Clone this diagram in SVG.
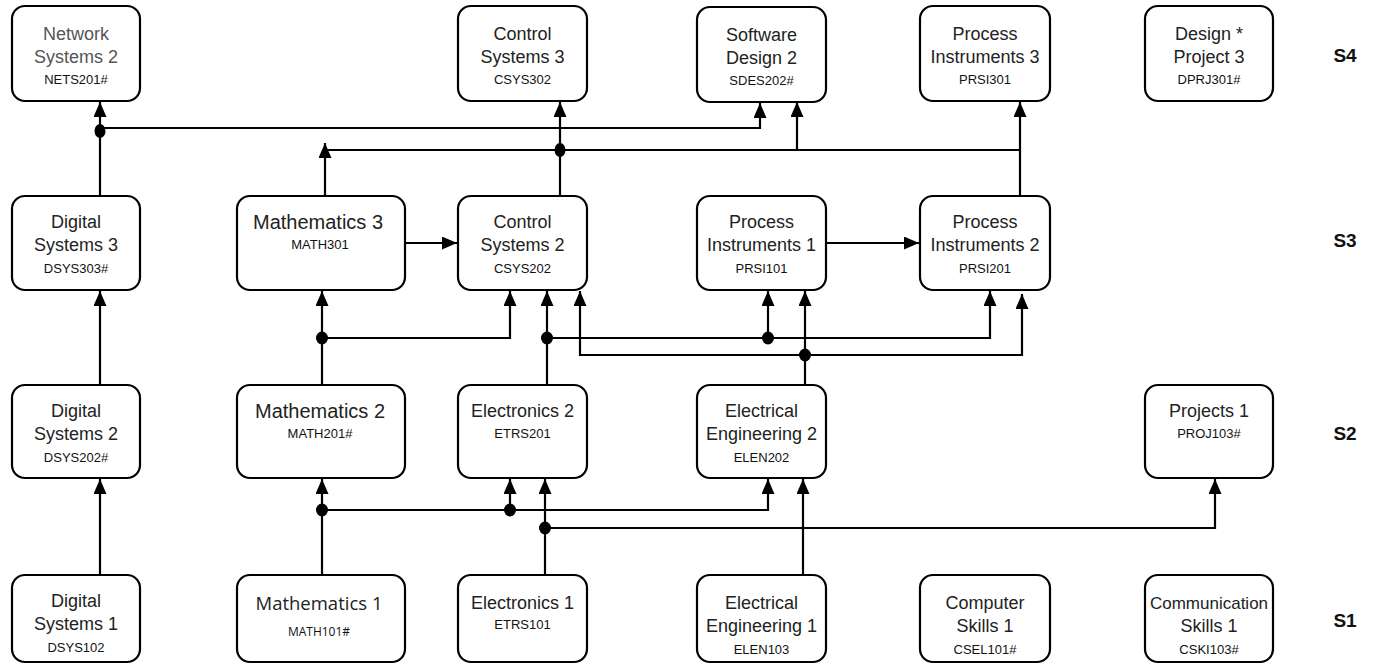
<svg xmlns="http://www.w3.org/2000/svg" width="1394" height="670" viewBox="0 0 1394 670">
<defs>
<marker id="arr" markerUnits="userSpaceOnUse" markerWidth="16" markerHeight="14" refX="15" refY="6.5" orient="auto">
<path d="M0,0 L15,6.5 L0,13 z" fill="#000"/>
</marker>
<style>
.box{fill:#fff;stroke:#000;stroke-width:2.2}
.t{font-family:"Liberation Sans",Arial,sans-serif;font-size:18px;fill:#222;text-anchor:middle;dominant-baseline:central}
.c{font-family:"Liberation Sans",Arial,sans-serif;font-size:13px;fill:#111;text-anchor:middle;dominant-baseline:central}
.g{fill:#555}
.mt{font-size:20px}
.m{font-family:"Open Sans","DejaVu Sans",sans-serif}
.s{font-family:"Liberation Sans",Arial,sans-serif;font-size:19px;font-weight:bold;fill:#111;text-anchor:middle;dominant-baseline:central}
.e{fill:none;stroke:#000;stroke-width:2.2;marker-end:url(#arr)}
.l{fill:none;stroke:#000;stroke-width:2.2}
.d{fill:#000}
</style>
</defs>
<rect width="1394" height="670" fill="#fff"/>
<g id="connectors">
<path class="e" d="M100,196 V102"/>
<path class="e" d="M100,128 H760 V103"/>
<ellipse class="d" cx="100" cy="131" rx="5.5" ry="7"/>
<path class="e" d="M325,196 V143"/>
<path class="l" d="M325,150 H1020"/>
<path class="e" d="M1020,196 V102"/>
<path class="e" d="M797,150 V102"/>
<path class="e" d="M560,196 V102"/>
<ellipse class="d" cx="560" cy="150" rx="5.5" ry="7"/>
<path class="e" d="M405,243 H457"/>
<path class="e" d="M826,243 H919"/>
<path class="e" d="M100,385 V291"/>
<path class="e" d="M322,385 V291"/>
<path class="e" d="M322,338 H510 V291"/>
<ellipse class="d" cx="322" cy="338" rx="6" ry="6.5"/>
<path class="e" d="M547,385 V291"/>
<path class="e" d="M547,338 H990 V291"/>
<path class="e" d="M768,338 V291"/>
<ellipse class="d" cx="547" cy="338" rx="6" ry="6.5"/>
<ellipse class="d" cx="768" cy="338" rx="6" ry="6.5"/>
<path class="e" d="M805,385 V291"/>
<path class="e" d="M805,355 H1022 V294"/>
<path class="e" d="M805,355 H580 V291"/>
<ellipse class="d" cx="805" cy="355" rx="6" ry="6.5"/>
<path class="e" d="M100,575 V479"/>
<path class="e" d="M322,575 V479"/>
<path class="e" d="M322,510 H768 V479"/>
<path class="e" d="M510,510 V479"/>
<ellipse class="d" cx="322" cy="510" rx="6" ry="6.5"/>
<ellipse class="d" cx="510" cy="510" rx="6" ry="6.5"/>
<path class="e" d="M545,575 V479"/>
<path class="e" d="M545,528 H1215 V479"/>
<ellipse class="d" cx="545" cy="528" rx="6" ry="6.5"/>
<path class="e" d="M803,575 V479"/>
</g>
<g id="NETS201">
<rect class="box" x="12" y="6" width="128" height="95" rx="13"/>
<text class="t g" x="76" y="34">Network</text>
<text class="t g" x="76" y="57">Systems 2</text>
<text class="c" x="76" y="79">NETS201#</text>
</g>
<g id="CSYS302">
<rect class="box" x="458" y="6" width="129" height="95" rx="13"/>
<text class="t" x="522.5" y="34">Control</text>
<text class="t" x="522.5" y="57">Systems 3</text>
<text class="c" x="522.5" y="79">CSYS302</text>
</g>
<g id="SDES202">
<rect class="box" x="697" y="7" width="129" height="95" rx="13"/>
<text class="t" x="761.5" y="35">Software</text>
<text class="t" x="761.5" y="58">Design 2</text>
<text class="c" x="761.5" y="80">SDES202#</text>
</g>
<g id="PRSI301">
<rect class="box" x="920" y="6" width="130" height="95" rx="13"/>
<text class="t" x="985" y="34">Process</text>
<text class="t" x="985" y="57">Instruments 3</text>
<text class="c" x="985" y="79">PRSI301</text>
</g>
<g id="DPRJ301">
<rect class="box" x="1145" y="6" width="128" height="95" rx="13"/>
<text class="t" x="1209" y="34">Design *</text>
<text class="t" x="1209" y="57">Project 3</text>
<text class="c" x="1209" y="79">DPRJ301#</text>
</g>
<g id="DSYS303">
<rect class="box" x="12" y="196" width="128" height="94" rx="13"/>
<text class="t" x="76" y="222">Digital</text>
<text class="t" x="76" y="245">Systems 3</text>
<text class="c" x="76" y="268">DSYS303#</text>
</g>
<g id="MATH301">
<rect class="box" x="237" y="196" width="168" height="94" rx="13"/>
<text class="t mt" x="318" y="222">Mathematics 3</text>
<text class="c" x="320" y="244">MATH301</text>
</g>
<g id="CSYS202">
<rect class="box" x="458" y="196" width="129" height="94" rx="13"/>
<text class="t" x="522.5" y="222">Control</text>
<text class="t" x="522.5" y="245">Systems 2</text>
<text class="c" x="522.5" y="268">CSYS202</text>
</g>
<g id="PRSI101">
<rect class="box" x="697" y="196" width="129" height="94" rx="13"/>
<text class="t" x="761.5" y="222">Process</text>
<text class="t" x="761.5" y="245">Instruments 1</text>
<text class="c" x="761.5" y="268">PRSI101</text>
</g>
<g id="PRSI201">
<rect class="box" x="920" y="196" width="130" height="94" rx="13"/>
<text class="t" x="985" y="222">Process</text>
<text class="t" x="985" y="245">Instruments 2</text>
<text class="c" x="985" y="268">PRSI201</text>
</g>
<g id="DSYS202">
<rect class="box" x="12" y="385" width="128" height="93" rx="13"/>
<text class="t" x="76" y="411">Digital</text>
<text class="t" x="76" y="434">Systems 2</text>
<text class="c" x="76" y="457">DSYS202#</text>
</g>
<g id="MATH201">
<rect class="box" x="237" y="385" width="168" height="93" rx="13"/>
<text class="t mt" x="320" y="411">Mathematics 2</text>
<text class="c" x="320" y="433">MATH201#</text>
</g>
<g id="ETRS201">
<rect class="box" x="458" y="385" width="129" height="93" rx="13"/>
<text class="t" x="522.5" y="411">Electronics 2</text>
<text class="c" x="522.5" y="433">ETRS201</text>
</g>
<g id="ELEN202">
<rect class="box" x="697" y="385" width="129" height="93" rx="13"/>
<text class="t" x="761.5" y="411">Electrical</text>
<text class="t" x="761.5" y="434">Engineering 2</text>
<text class="c" x="761.5" y="457">ELEN202</text>
</g>
<g id="PROJ103">
<rect class="box" x="1145" y="385" width="128" height="93" rx="13"/>
<text class="t" x="1209" y="411">Projects 1</text>
<text class="c" x="1209" y="433">PROJ103#</text>
</g>
<g id="DSYS102">
<rect class="box" x="12" y="575" width="128" height="87" rx="13"/>
<text class="t" x="76" y="601">Digital</text>
<text class="t" x="76" y="624">Systems 1</text>
<text class="c" x="76" y="647">DSYS102</text>
</g>
<g id="MATH101">
<rect class="box" x="237" y="575" width="168" height="87" rx="13"/>
<text class="t m" x="319" y="602" style="font-size:18.5px">Mathematics 1</text>
<text class="c m" x="319" y="631" style="font-size:12px">MATH101#</text>
</g>
<g id="ETRS101">
<rect class="box" x="458" y="575" width="129" height="87" rx="13"/>
<text class="t" x="522.5" y="603">Electronics 1</text>
<text class="c" x="522.5" y="624">ETRS101</text>
</g>
<g id="ELEN103">
<rect class="box" x="697" y="575" width="129" height="87" rx="13"/>
<text class="t" x="761.5" y="603">Electrical</text>
<text class="t" x="761.5" y="626">Engineering 1</text>
<text class="c" x="761.5" y="649">ELEN103</text>
</g>
<g id="CSEL101">
<rect class="box" x="920" y="575" width="130" height="87" rx="13"/>
<text class="t" x="985" y="603">Computer</text>
<text class="t" x="985" y="626">Skills 1</text>
<text class="c" x="985" y="649">CSEL101#</text>
</g>
<g id="CSKI103">
<rect class="box" x="1145" y="575" width="128" height="87" rx="13"/>
<text class="t" x="1209" y="603" style="font-size:17px">Communication</text>
<text class="t" x="1209" y="626">Skills 1</text>
<text class="c" x="1209" y="649">CSKI103#</text>
</g>
<g id="labels">
<text class="s" x="1345" y="55">S4</text>
<text class="s" x="1345" y="240">S3</text>
<text class="s" x="1345" y="433">S2</text>
<text class="s" x="1345" y="620">S1</text>
</g>
</svg>
